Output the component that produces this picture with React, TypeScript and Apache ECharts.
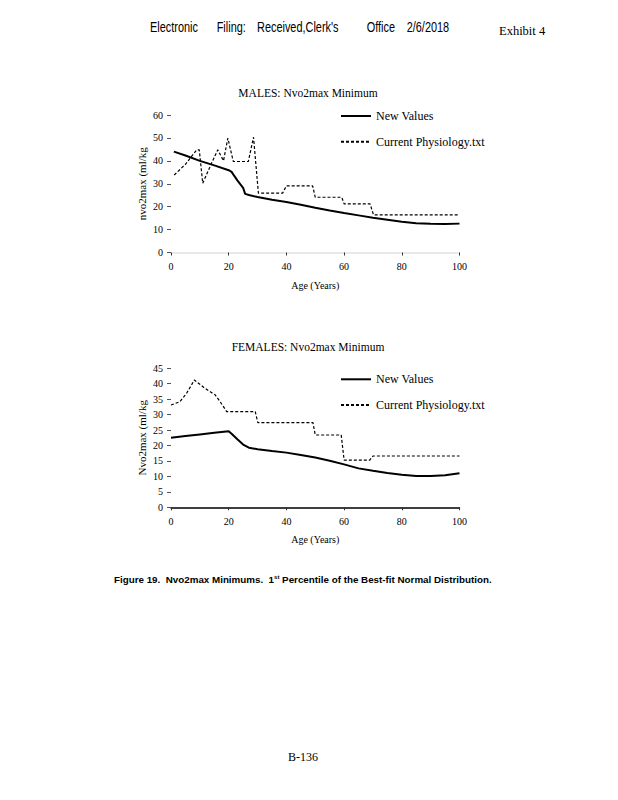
import React, { useEffect, useRef } from "react";
import * as echarts from "echarts";

// ---- Data ----
const xTicks = [0, 20, 40, 60, 80, 100];
const legendNames = ["New Values", "Current Physiology.txt"];

const maleNewAge = [1, 5, 10, 15, 20, 21, 22, 23, 24, 25, 25.7, 27, 30, 35, 40, 45, 50, 55, 60, 65, 70, 75, 80, 85, 90, 95, 100];
const maleNewVal = [44, 42.3, 40, 38, 35.9, 35.2, 33.3, 31.5, 29.8, 28.2, 25.6, 25.1, 24.2, 23, 22, 20.8, 19.5, 18.3, 17.2, 16.2, 15.2, 14.3, 13.4, 12.8, 12.5, 12.4, 12.6];

const maleCurAge = [1.1, 5, 8.9, 9.8, 11, 13, 16.2, 18.2, 19.7, 21.6, 26.8, 28.6, 30.3, 38.7, 40, 49.1, 50, 59.2, 60, 69, 70.2, 100];
const maleCurVal = [33.8, 38.5, 44.8, 44.8, 30.2, 36, 44.8, 40, 49.9, 39.7, 39.7, 50.3, 25.9, 25.9, 29.1, 29.1, 24.1, 24.1, 21.2, 21.2, 16.4, 16.4];

const femNewAge = [0, 5, 10, 15, 20, 21, 23, 25, 27, 30, 35, 40, 45, 50, 55, 60, 65, 70, 75, 80, 85, 90, 95, 100];
const femNewVal = [22.5, 23.1, 23.6, 24.1, 24.6, 23.8, 22, 20.3, 19.3, 18.8, 18.2, 17.7, 16.9, 16.1, 15.1, 13.9, 12.6, 11.8, 11.1, 10.5, 10.1, 10.1, 10.4, 11];

const femCurAge = [0, 3.1, 5.4, 8.1, 11.8, 15.3, 17, 19.3, 29.2, 30.1, 49.2, 50, 59, 60, 68.9, 70, 100];
const femCurVal = [33.1, 34.2, 36.9, 41.2, 38.5, 36.4, 34.2, 31, 31, 27.4, 27.4, 23.4, 23.4, 15.3, 15.3, 16.6, 16.6];

const pairs = (xs: number[], ys: number[]) => xs.map((x, i) => [x, ys[i]]);

const SERIF = "'Liberation Serif', 'Times New Roman', serif";
const SANS = "'Liberation Sans', Arial, sans-serif";

export default function App() {
  const ref = useRef<HTMLDivElement>(null);

  useEffect(() => {
    if (!ref.current) return;
    const chart = echarts.init(ref.current, null, { renderer: "svg" });

    const xAxisBase = (idx: number, lineColor: string, gap: number) => ({
      type: "value",
      gridIndex: idx,
      min: xTicks[0],
      max: xTicks[xTicks.length - 1],
      interval: xTicks[1] - xTicks[0],
      name: "Age (Years)",
      nameLocation: "middle",
      nameGap: gap,
      nameTextStyle: { fontFamily: SERIF, fontSize: 10, color: "#000" },
      axisLine: { show: true, lineStyle: { color: lineColor, width: 1.5 } },
      axisTick: { show: true, length: 3, lineStyle: { color: "#333" } },
      axisLabel: { fontFamily: SERIF, fontSize: 10, color: "#000", margin: 9 },
      splitLine: { show: false },
    });

    const yAxisBase = (idx: number, max: number, interval: number, name: string) => ({
      type: "value",
      gridIndex: idx,
      min: 0,
      max,
      interval,
      name,
      nameLocation: "middle",
      nameGap: 24,
      nameTextStyle: { fontFamily: SERIF, fontSize: 11, color: "#000" },
      axisLine: { show: false },
      axisTick: { show: true, length: 4, lineStyle: { color: "#555" } },
      axisLabel: { fontFamily: SERIF, fontSize: 10, color: "#000", margin: 8 },
      splitLine: { show: false },
    });

    const solid = { color: "#000", width: 2, type: "solid" as const };
    const dashed = { color: "#000", width: 1.2, type: [3, 2] };

    const legendBase = (top: number) => ({
      orient: "vertical",
      left: 340,
      top,
      padding: 0,
      itemWidth: 30,
      itemHeight: 12,
      itemGap: 13.7,
      data: legendNames,
      selectedMode: false,
      itemStyle: { opacity: 0 },
      textStyle: { fontFamily: SERIF, fontSize: 12, color: "#000" },
    });

    const hdr = (text: string, x: number) => ({
      type: "text",
      x,
      y: 27.3,
      scaleX: 0.78,
      style: { text, font: `14px ${SANS}`, fill: "#000", textVerticalAlign: "middle" },
    });

    const titleStyle = { fontFamily: SERIF, fontSize: 11.5, fontWeight: "normal", color: "#000" };

    chart.setOption({
      animation: false,
      backgroundColor: "#fff",
      title: [
        { text: "MALES: Nvo2max Minimum", left: 308, top: 87, padding: 0, textAlign: "center", textStyle: titleStyle },
        { text: "FEMALES: Nvo2max Minimum", left: 308, top: 341, padding: 0, textAlign: "center", textStyle: titleStyle },
      ],
      legend: [legendBase(110), legendBase(373.3)],
      grid: [
        { left: 171, width: 288.5, top: 115, height: 137.5 },
        { left: 171, width: 288.5, top: 368.3, height: 139 },
      ],
      xAxis: [xAxisBase(0, "#e2e2e2", 28), xAxisBase(1, "#000", 27)],
      yAxis: [
        yAxisBase(0, 60, 10, "nvo2max (ml/kg"),
        yAxisBase(1, 45, 5, "Nvo2max (ml/kg"),
      ],
      series: [
        {
          name: legendNames[0],
          type: "line",
          xAxisIndex: 0,
          yAxisIndex: 0,
          data: pairs(maleNewAge, maleNewVal),
          symbol: "none",
          lineStyle: solid,
          itemStyle: { color: "#000" },
        },
        {
          name: legendNames[1],
          type: "line",
          xAxisIndex: 0,
          yAxisIndex: 0,
          data: pairs(maleCurAge, maleCurVal),
          symbol: "none",
          lineStyle: dashed,
          itemStyle: { color: "#000" },
        },
        {
          name: legendNames[0],
          type: "line",
          xAxisIndex: 1,
          yAxisIndex: 1,
          data: pairs(femNewAge, femNewVal),
          symbol: "none",
          lineStyle: solid,
          itemStyle: { color: "#000" },
        },
        {
          name: legendNames[1],
          type: "line",
          xAxisIndex: 1,
          yAxisIndex: 1,
          data: pairs(femCurAge, femCurVal),
          symbol: "none",
          lineStyle: dashed,
          itemStyle: { color: "#000" },
        },
      ],
      graphic: [
        hdr("Electronic", 150),
        hdr("Filing:", 216.7),
        hdr("Received,Clerk's", 257),
        hdr("Office", 366.7),
        hdr("2/6/2018", 406.7),
        {
          type: "text",
          x: 499,
          y: 30.7,
          style: { text: "Exhibit 4", font: `12.5px ${SERIF}`, fill: "#000", textVerticalAlign: "middle" },
        },
        {
          type: "text",
          x: 114,
          y: 579.3,
          style: {
            text: "Figure 19.  Nvo2max Minimums.  1{sup|st} Percentile of the Best-fit Normal Distribution.",
            font: `bold 9.8px ${SANS}`,
            fill: "#000",
            textVerticalAlign: "middle",
            rich: {
              sup: { fontSize: 6, fontWeight: "bold", fontFamily: SANS, verticalAlign: "top", padding: [0, 0, 5, 0] },
            },
          },
        },
        {
          type: "text",
          x: 303,
          y: 756.7,
          style: { text: "B-136", font: `12px ${SERIF}`, fill: "#000", textAlign: "center", textVerticalAlign: "middle" },
        },
      ],
    });

    return () => chart.dispose();
  }, []);

  return (
    <div
      ref={ref}
      style={{ position: "absolute", left: 0, top: 0, width: 618, height: 800, background: "#fff" }}
    />
  );
}
